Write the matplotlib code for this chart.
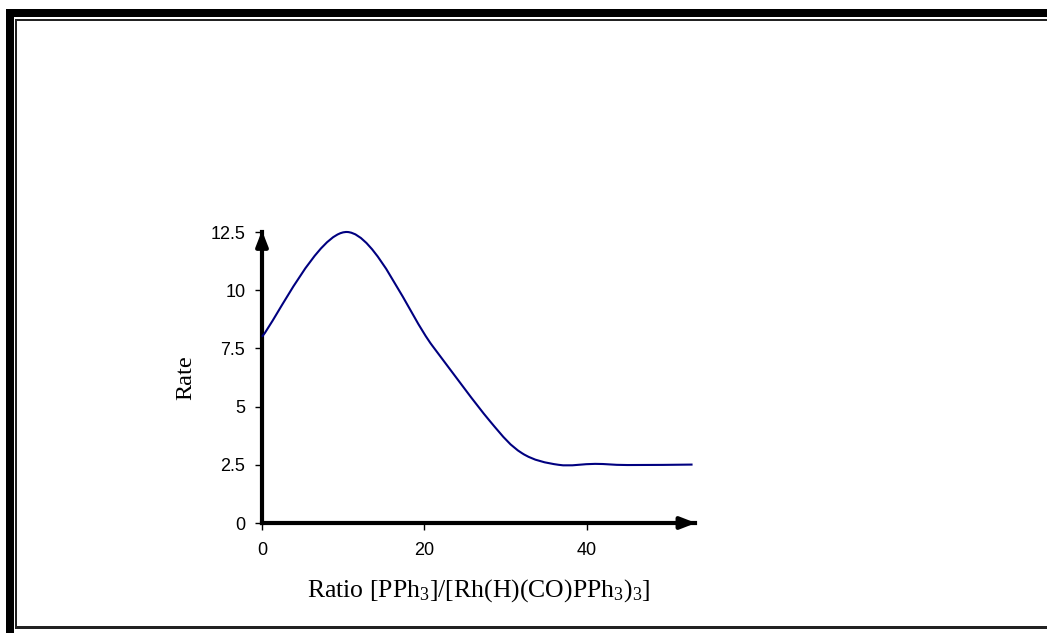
import matplotlib
matplotlib.use("Agg")
import matplotlib.pyplot as plt
from matplotlib.path import Path
from matplotlib.patches import PathPatch, Rectangle
import numpy as np

plt.rcParams['mathtext.fontset'] = 'custom'
plt.rcParams['mathtext.rm'] = 'Liberation Serif'
plt.rcParams['mathtext.it'] = 'Liberation Serif:italic'

# Data
ratio = [0, 10.5, 21, 28, 32, 36.5, 41, 45, 53]
rate = [8.0, 12.5, 7.6, 4.4, 3.0, 2.5, 2.54, 2.49, 2.51]
x_ticks = [0, 20, 40]
y_ticks = [0, 2.5, 5, 7.5, 10, 12.5]
y_tick_labels = ["0", "2.5", "5", "7.5", "10", "12.5"]

W, H = 1047, 633
fig = plt.figure(figsize=(W / 100, H / 100), dpi=100)

# decorative frame (pixel coords -> figure fraction)
def rect(x0, y0, x1, y1, color):
    fig.patches.append(Rectangle((x0 / W, 1 - y1 / H), (x1 - x0) / W, (y1 - y0) / H,
                                 transform=fig.transFigure, color=color, lw=0, zorder=0))
# outer thick black
rect(6, 9.5, W + 5, 16.5, 'black')
rect(6, 9.5, 14, H + 5, 'black')
# inner thin line
rect(15, 19, W + 5, 21, '#222222')
rect(15, 19, 17, 627.5, '#222222')
rect(15, 626, W + 5, 628.5, '#222222')

ax_left, ax_right, ax_top, ax_bottom = 262, 695, 232, 523
ax = fig.add_axes([ax_left / W, 1 - ax_bottom / H, (ax_right - ax_left) / W, (ax_bottom - ax_top) / H])
ax.set_facecolor('none')
ax.set_xlim(0, 53.3)
ax.set_ylim(0, 12.5)

# smoothed (Catmull-Rom style Bezier) curve through the data points
pts = np.column_stack([ratio, rate]).astype(float)
verts = [tuple(pts[0])]
codes = [Path.MOVETO]
n = len(pts)
for i in range(n - 1):
    p0 = pts[i - 1] if i > 0 else pts[i]
    p1 = pts[i]
    p2 = pts[i + 1]
    p3 = pts[i + 2] if i + 2 < n else pts[i + 1]
    c1 = p1 + (p2 - p0) / 6.0
    c2 = p2 - (p3 - p1) / 6.0
    verts += [tuple(c1), tuple(c2), tuple(p2)]
    codes += [Path.CURVE4] * 3
ax.add_patch(PathPatch(Path(verts, codes), fill=False, edgecolor='#000080', lw=1.5,
                       clip_on=False, zorder=3))

for s in ['top', 'right']:
    ax.spines[s].set_visible(False)
for s in ['left', 'bottom']:
    ax.spines[s].set_linewidth(3)
    ax.spines[s].set_color('black')

# arrow heads
ax.annotate('', xy=(1.002, 0), xycoords='axes fraction', xytext=(0.96, 0),
            arrowprops=dict(arrowstyle='-|>,head_length=0.9,head_width=0.35', color='black', lw=3,
                            shrinkA=0, shrinkB=0), annotation_clip=False)
ax.annotate('', xy=(0, 1.005), xycoords='axes fraction', xytext=(0, 0.95),
            arrowprops=dict(arrowstyle='-|>,head_length=0.9,head_width=0.35', color='black', lw=3,
                            shrinkA=0, shrinkB=0), annotation_clip=False)

ax.set_xticks(x_ticks)
ax.set_xticklabels([str(v) for v in x_ticks], fontfamily='Liberation Sans', fontsize=13)
ax.set_yticks(y_ticks)
ax.set_yticklabels(y_tick_labels, fontfamily='Liberation Sans', fontsize=13)
ax.tick_params(axis='both', direction='out', length=5, width=1, color='black')
ax.tick_params(axis='x', pad=9)
ax.tick_params(axis='y', pad=7)

ax.set_xlabel(r'Ratio [PPh$_{\mathrm{3}}$]/[Rh(H)(CO)PPh$_{\mathrm{3}}$)$_{\mathrm{3}}$]',
              fontfamily='Liberation Serif', fontsize=18.5, labelpad=13)
ax.set_ylabel('Rate', fontfamily='Liberation Serif', fontsize=17.5, labelpad=10)

fig.savefig('out.png', dpi=100)
